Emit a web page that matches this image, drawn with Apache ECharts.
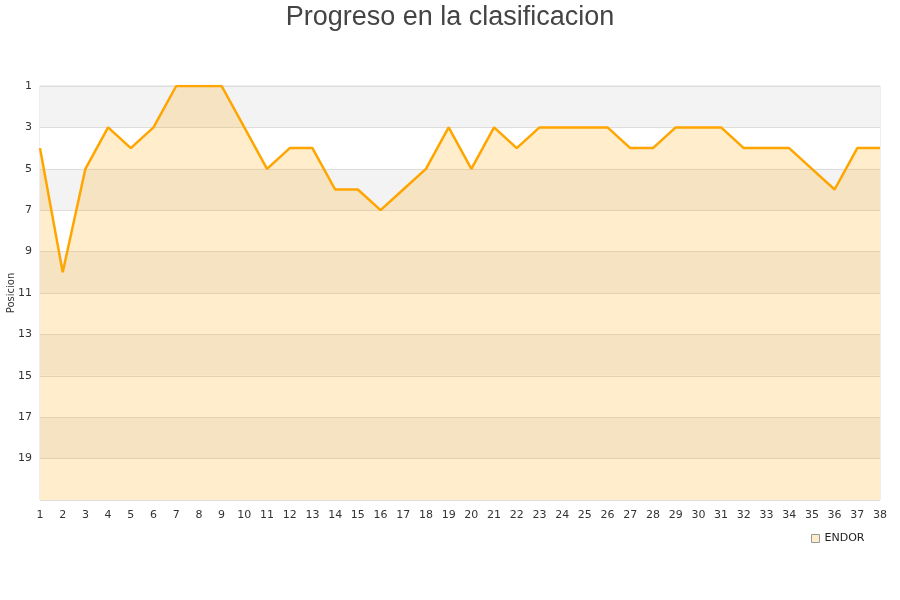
<!DOCTYPE html>
<html>
<head>
<meta charset="utf-8">
<script src="https://cdn.jsdelivr.net/npm/echarts@6/dist/echarts.min.js"></script>
<style>html,body{margin:0;padding:0;background:#fff}#c{width:900px;height:600px}</style>
</head>
<body>
<div id="c"></div>
<script>
const jornadas = ['1','2','3','4','5','6','7','8','9','10','11','12','13','14','15','16','17','18','19','20','21','22','23','24','25','26','27','28','29','30','31','32','33','34','35','36','37','38'];
const posiciones = [4,10,5,3,4,3,1,1,1,3,5,4,4,6,6,7,6,5,3,5,3,4,3,3,3,3,4,4,3,3,3,4,4,4,5,6,4,4];
const equipo = 'ENDOR';
const titulo = 'Progreso en la clasificacion';
const ejeY = 'Posicion';

const chart = echarts.init(document.getElementById('c'));
chart.setOption({
  animation: false,
  title: {
    text: titulo, left: 'center', top: -1,
    textStyle: { fontFamily: 'Liberation Sans', fontSize: 27, fontWeight: 'normal', color: '#444' }
  },
  legend: {
    data: [{ name: equipo, icon: 'rect' }],
    left: 806, top: 528, itemWidth: 8, itemHeight: 8, itemGap: 6,
    textStyle: { fontFamily: 'DejaVu Sans', fontSize: 11, color: '#222' },
    itemStyle: { color: '#feedcc', borderColor: '#999', borderWidth: 1 }
  },
  graphic: [{
    type: 'text', x: 11, y: 293, rotation: Math.PI / 2,
    style: { text: ejeY, fontFamily: 'DejaVu Sans', fontSize: 10, fill: '#333', align: 'center', verticalAlign: 'middle' }
  }],
  grid: { left: 40, right: 20, top: 86, bottom: 100, containLabel: false, outerBoundsMode: 'none',
    show: true, borderColor: '#ddd', borderWidth: 1, backgroundColor: 'transparent' },
  xAxis: {
    type: 'category', data: jornadas, boundaryGap: false,
    axisLine: { show: false }, axisTick: { show: false },
    axisLabel: { fontFamily: 'DejaVu Sans', fontSize: 11, color: '#333', margin: 10 },
    splitLine: { show: false }
  },
  yAxis: {
    type: 'value', inverse: true, min: 1, max: 21, interval: 2,
    axisLine: { show: false }, axisTick: { show: false },
    axisLabel: { fontFamily: 'DejaVu Sans', fontSize: 11, color: '#333', margin: 8,
      formatter: v => v === 21 ? '' : v },
    splitLine: { show: true, lineStyle: { color: '#ddd', width: 1 } },
    splitArea: { show: true, areaStyle: { color: ['#f3f3f3', '#ffffff'] } }
  },
  series: [{
    name: equipo, type: 'line', data: posiciones,
    symbol: 'none', lineStyle: { color: '#FFA500', width: 2.5 },
    itemStyle: { color: '#feedcc' },
    areaStyle: { color: 'rgba(255,165,0,0.2)', opacity: 1, origin: 'end' }
  }]
});
</script>
</body>
</html>
